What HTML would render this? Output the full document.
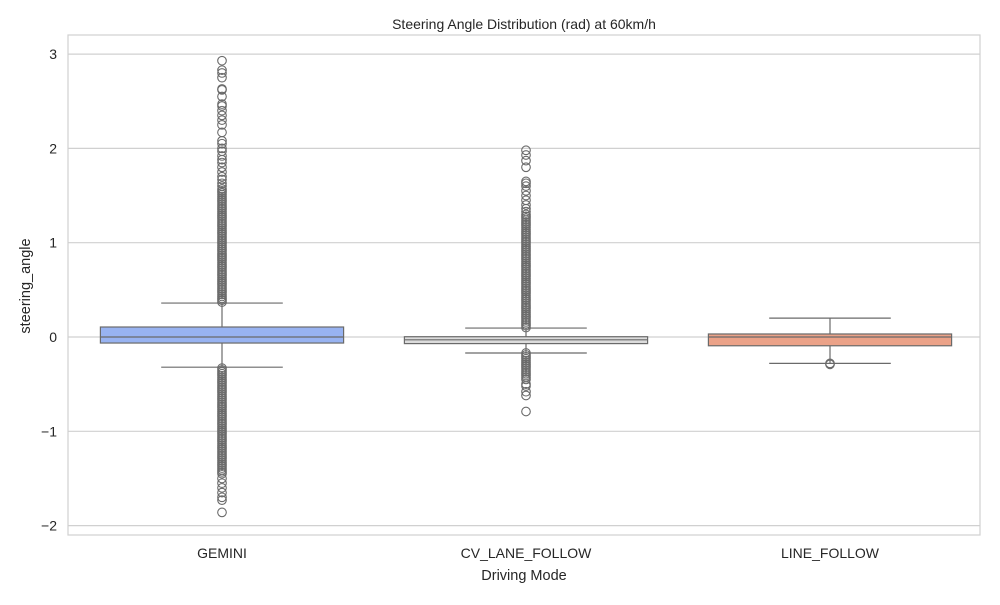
<!DOCTYPE html>
<html><head><meta charset="utf-8"><style>
body{margin:0;background:#fff;font-family:"Liberation Sans","DejaVu Sans",sans-serif}
</style></head><body>
<svg id="chart" width="1000" height="600" viewBox="0 0 1000 600" font-family="Liberation Sans, DejaVu Sans, sans-serif">
<rect width="1000" height="600" fill="#fff"/>
<text x="524" y="29" font-size="14" text-anchor="middle" fill="#262626">Steering Angle Distribution (rad) at 60km/h</text>
<text x="524" y="580" font-size="14.5" text-anchor="middle" fill="#262626">Driving Mode</text>
<text transform="translate(30,286) rotate(-90)" font-size="14.5" text-anchor="middle" fill="#262626">steering_angle</text>
<g id="grid"></g><g id="marks"></g><g id="axes"></g>
</svg>
<script>
const categories=["GEMINI","CV_LANE_FOLLOW","LINE_FOLLOW"];
const colors=["#98b3f1","#dcdcdc","#eba288"];
const q1=[-0.064,-0.07,-0.093];
const q3=[0.106,0.003,0.032];
const medians=[0,-0.03,0];
const whiskLow=[-0.32,-0.17,-0.28];
const whiskHigh=[0.36,0.095,0.2];
const yTicks=[-2,-1,0,1,2,3];
const yTickLabels=["\u22122","\u22121","0","1","2","3"];
const outGemini=[0.37,0.39,0.41,0.43,0.45,0.47,0.49,0.51,0.53,0.55,0.57,0.59,0.61,0.63,0.65,0.67,0.69,0.71,0.73,0.75,0.77,0.79,0.81,0.83,0.85,0.87,0.89,0.91,0.93,0.95,0.97,0.99,1.01,1.03,1.05,1.07,1.09,1.11,1.13,1.15,1.17,1.19,1.21,1.23,1.25,1.27,1.29,1.31,1.33,1.35,1.37,1.39,1.41,1.43,1.45,1.47,1.49,1.51,1.53,1.55,1.57,1.6,1.63,1.67,1.7,1.75,1.8,1.85,1.88,1.92,1.97,2.0,2.05,2.08,2.17,2.25,2.3,2.35,2.4,2.45,2.47,2.55,2.62,2.63,2.75,2.8,2.83,2.93,
-0.33,-0.35,-0.37,-0.39,-0.41,-0.43,-0.45,-0.47,-0.49,-0.51,-0.53,-0.55,-0.57,-0.59,-0.61,-0.63,-0.65,-0.67,-0.69,-0.71,-0.73,-0.75,-0.77,-0.79,-0.81,-0.83,-0.85,-0.87,-0.89,-0.91,-0.93,-0.95,-0.97,-0.99,-1.01,-1.03,-1.05,-1.07,-1.09,-1.11,-1.13,-1.15,-1.17,-1.19,-1.21,-1.23,-1.25,-1.27,-1.29,-1.31,-1.33,-1.35,-1.37,-1.39,-1.41,-1.43,-1.45,-1.5,-1.55,-1.6,-1.65,-1.7,-1.73,-1.86];
const outCV=[0.1,0.12,0.14,0.16,0.18,0.2,0.22,0.24,0.26,0.28,0.3,0.32,0.34,0.36,0.38,0.4,0.42,0.44,0.46,0.48,0.5,0.52,0.54,0.56,0.58,0.6,0.62,0.64,0.66,0.68,0.7,0.72,0.74,0.76,0.78,0.8,0.82,0.84,0.86,0.88,0.9,0.92,0.94,0.96,0.98,1.0,1.02,1.04,1.06,1.08,1.1,1.12,1.14,1.16,1.18,1.2,1.22,1.24,1.26,1.28,1.3,1.33,1.36,1.4,1.45,1.5,1.55,1.6,1.63,1.65,1.8,1.87,1.93,1.98,
-0.17,-0.19,-0.21,-0.23,-0.25,-0.27,-0.29,-0.31,-0.33,-0.35,-0.37,-0.39,-0.41,-0.43,-0.45,-0.5,-0.52,-0.58,-0.62,-0.79];
const outLine=[-0.28,-0.29];
const outliers=[outGemini,outCV,outLine];

const NS="http://www.w3.org/2000/svg";
const L=68,R=980,T=35,B=535;
const y=v=>337-v*94.3;
const bw=(R-L)/categories.length;
const cx=i=>L+2+bw*(i+0.5);
const boxW=bw*0.8;
function mk(tag,attrs,parent){const e=document.createElementNS(NS,tag);for(const k in attrs)e.setAttribute(k,attrs[k]);parent.appendChild(e);return e;}
const grid=document.getElementById('grid'),marks=document.getElementById('marks'),axes=document.getElementById('axes');
yTicks.forEach((t,i)=>{
 const g=mk('line',{x1:L,x2:R,y1:y(t),y2:y(t),stroke:'#d0d0d0','stroke-width':1.2},grid);
 
 
 const tx=mk('text',{x:L-11,y:y(t)+5,'font-size':14,'text-anchor':'end',fill:'#262626'},axes);
 tx.textContent=yTickLabels[i];
 
 
});
const frame=mk('rect',{x:L,y:T,width:R-L,height:B-T,fill:'none',stroke:'#d0d0d0','stroke-width':1.2},axes);


const ec='#6a6a6a';
categories.forEach((c,i)=>{
 const x=cx(i);
 const g=mk('g',{},marks);
 
 
 mk('line',{x1:x,x2:x,y1:y(q3[i]),y2:y(whiskHigh[i]),stroke:ec,'stroke-width':1.2},g);
 mk('line',{x1:x,x2:x,y1:y(q1[i]),y2:y(whiskLow[i]),stroke:ec,'stroke-width':1.2},g);
 mk('line',{x1:x-boxW/4,x2:x+boxW/4,y1:y(whiskHigh[i]),y2:y(whiskHigh[i]),stroke:ec,'stroke-width':1.2},g);
 mk('line',{x1:x-boxW/4,x2:x+boxW/4,y1:y(whiskLow[i]),y2:y(whiskLow[i]),stroke:ec,'stroke-width':1.2},g);
 mk('rect',{x:x-boxW/2,y:y(q3[i]),width:boxW,height:y(q1[i])-y(q3[i]),fill:colors[i],stroke:ec,'stroke-width':1.2},g);
 mk('line',{x1:x-boxW/2,x2:x+boxW/2,y1:y(medians[i]),y2:y(medians[i]),stroke:ec,'stroke-width':1.2},g);
 outliers[i].forEach(v=>{
  const p=mk('circle',{cx:x,cy:y(v),r:4.3,fill:'none',stroke:ec,'stroke-width':1.1},g);
  
  
 });
 const tx=mk('text',{x:x,y:B+23,'font-size':14,'text-anchor':'middle',fill:'#262626'},axes);
 tx.textContent=c;
 
 
});
</script>
</body></html>
